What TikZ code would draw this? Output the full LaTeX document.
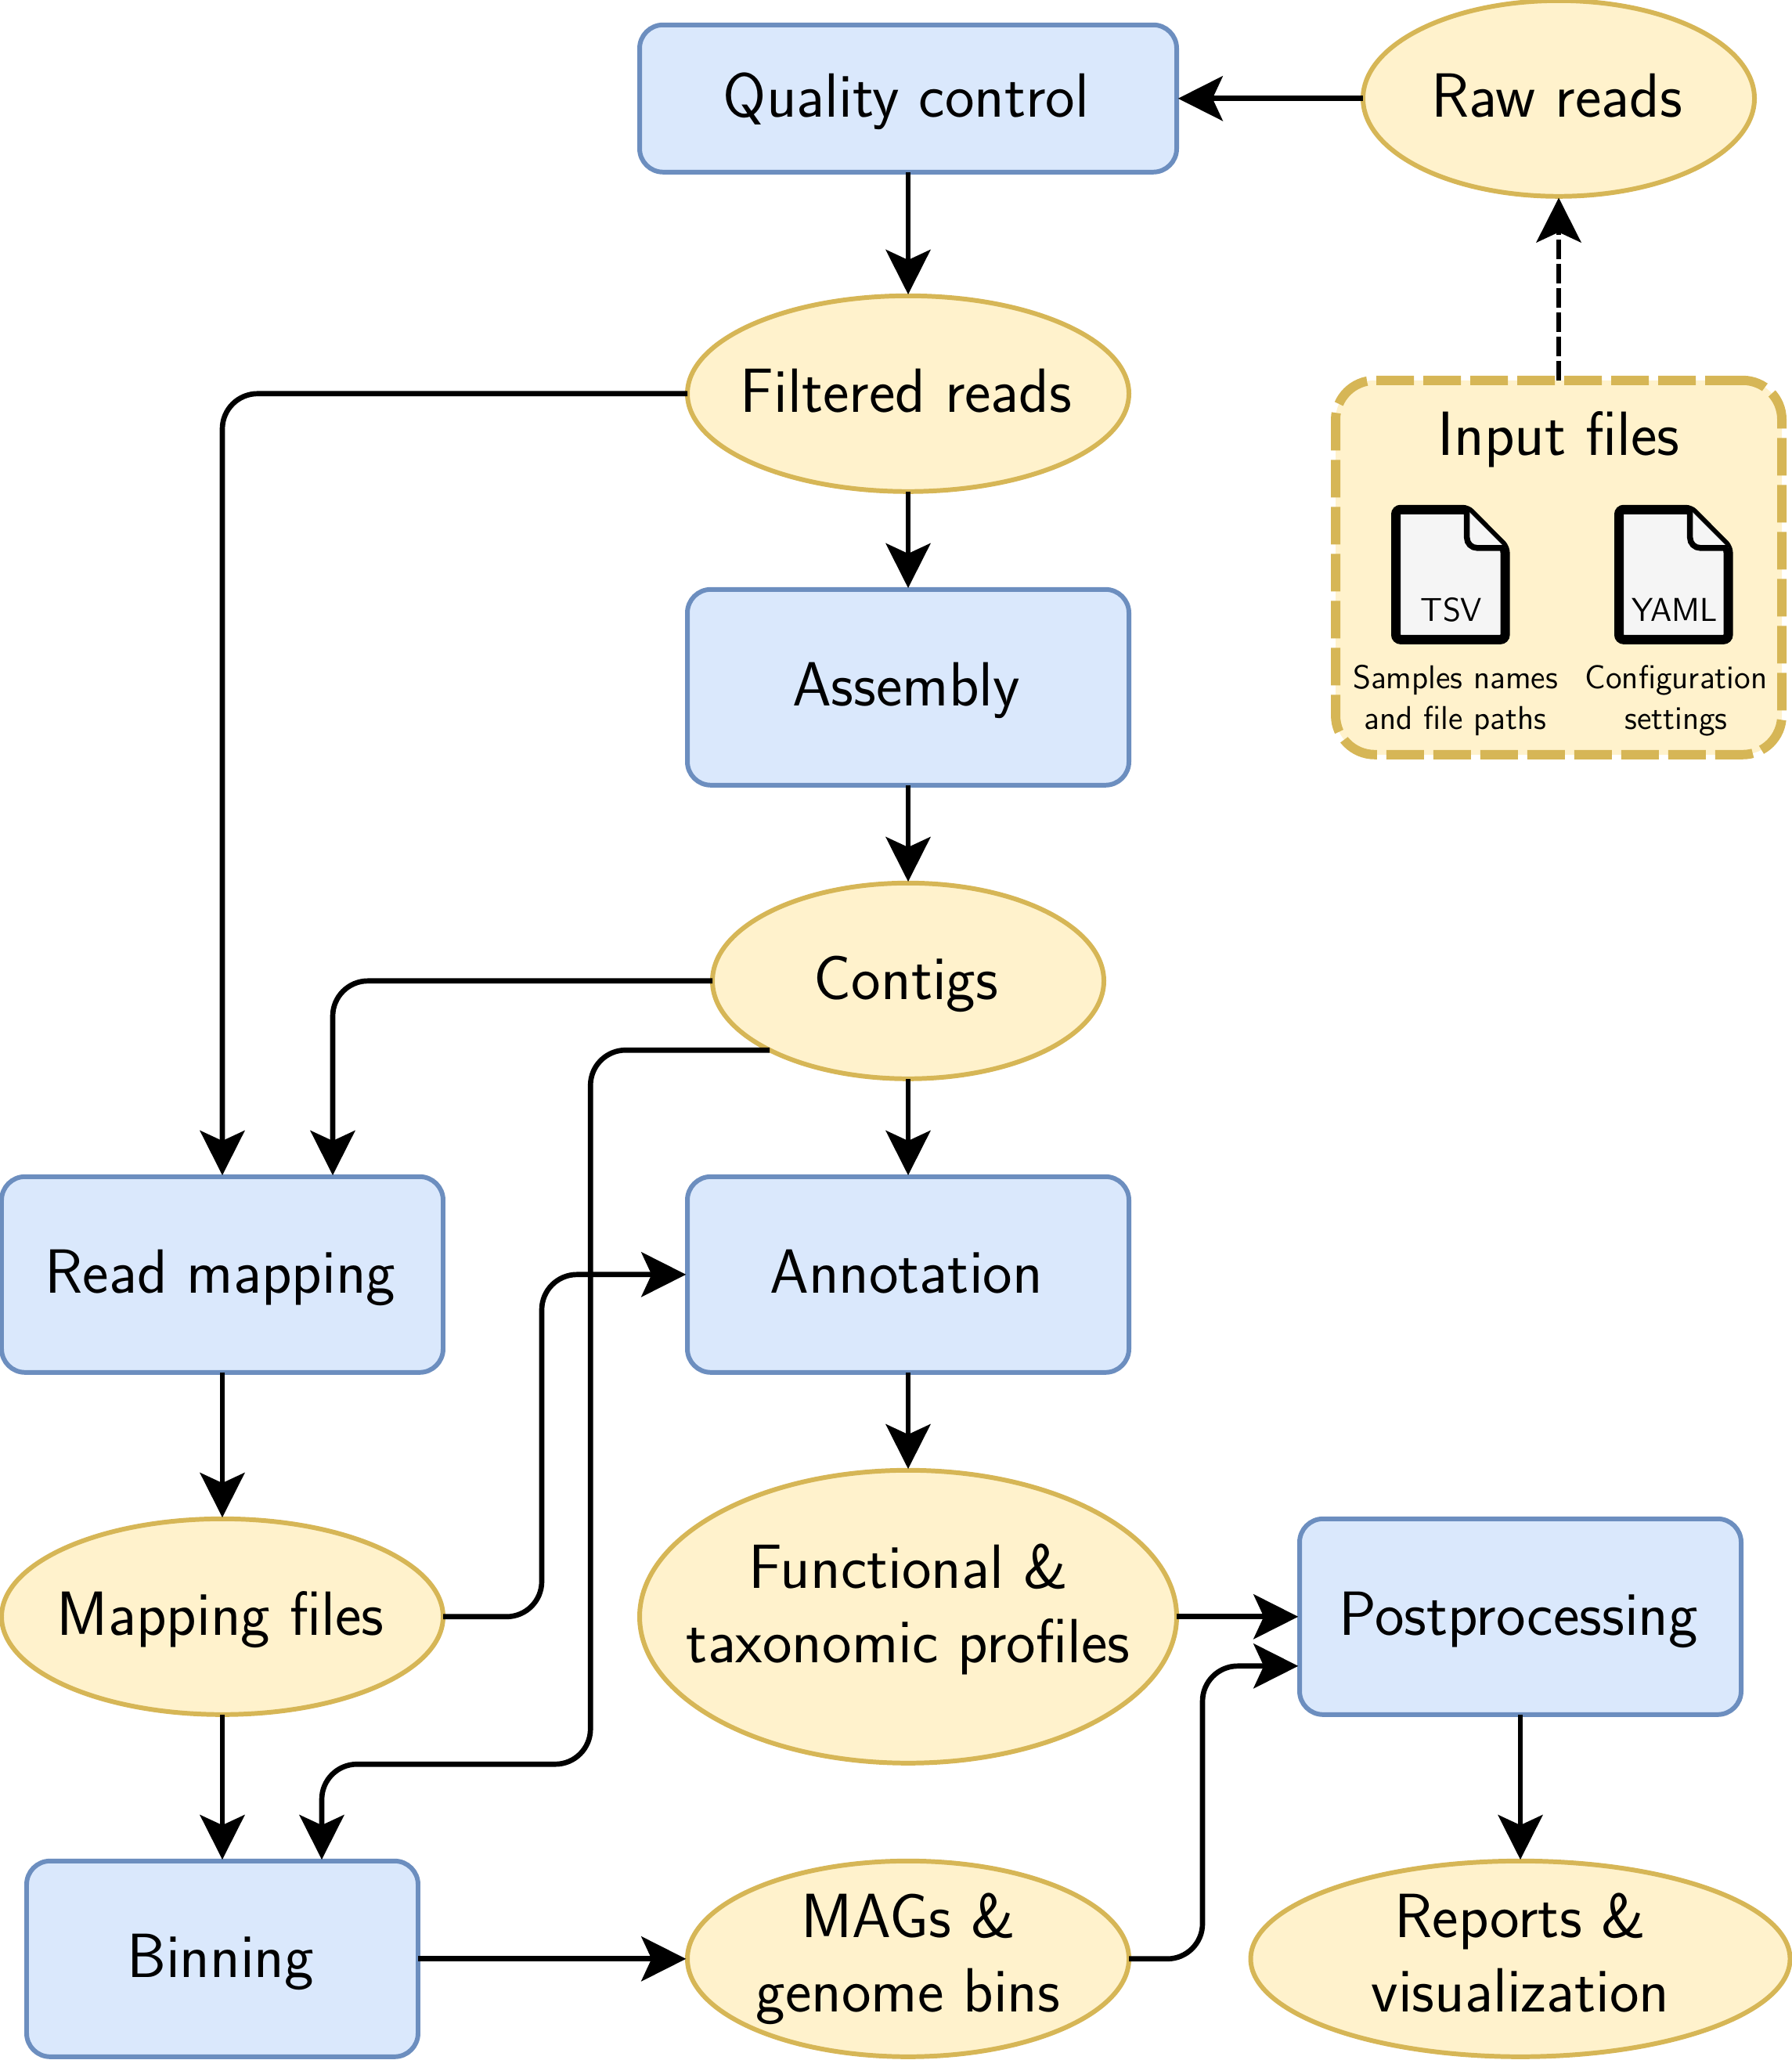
\documentclass[tikz,border=0pt]{standalone}
\usepackage{tikz}
\usetikzlibrary{positioning, calc, shapes.geometric, arrows.meta}
\definecolor{procfill}{HTML}{DAE8FC}
\definecolor{procline}{HTML}{6C8EBF}
\definecolor{datafill}{HTML}{FFF2CC}
\definecolor{dataline}{HTML}{D6B656}
\definecolor{iconfill}{HTML}{F5F5F5}
\tikzset{
    fileicon/.pic={
        \draw[line width=0.12cm, rounded corners=0.06cm, fill=iconfill]
            (0,0) -- (0.91,0) -- (1.395,-0.49) -- (1.395,-1.66) -- (0,-1.66) -- cycle;
        \draw[line width=0.075cm, rounded corners=0.13cm, fill=iconfill]
            (0.907,0) -- (0.907,-0.49) -- (1.395,-0.49);
    }
}
\begin{document}
\begin{tikzpicture}[
    font=\sffamily\fontsize{22.7}{27}\selectfont,
    procbox/.style={draw=procline, fill=procfill, line width=1.7pt, rounded corners=0.3cm, outer sep=0pt, align=center, minimum width=5.64cm, minimum height=2.5cm},
    dataell/.style={ellipse, draw=dataline, fill=datafill, line width=1.7pt, inner xsep=-0.5cm, inner ysep=-0.3cm, outer sep=0pt, align=center, minimum width=5.64cm, minimum height=2.5cm},
    oneline/.style={text height=13.6pt, text depth=0pt, execute at end node={\kern1.4pt}},
    link/.style={draw, line width=1.9pt, rounded corners=0.45cm, shorten >=0.5pt, -{Stealth[length=0.57cm, width=0.57cm, inset=0.13cm]}},
    smalltext/.style={font=\sffamily\fontsize{12}{14.7}\selectfont, align=center, inner sep=0pt}
]
\useasboundingbox (0,0) rectangle (22.88,-26.31);
% Centre column
\node[procbox, oneline, minimum width=6.86cm, minimum height=1.88cm] (qc) at (11.6,-1.258) {Quality control};
\node[dataell, oneline, below=1.58cm of qc] (filtered) {Filtered reads};
\node[procbox, oneline, below=1.25cm of filtered] (assembly) {Assembly};
\node[dataell, oneline, minimum width=5cm, below=1.25cm of assembly] (contigs) {Contigs};
\node[procbox, oneline, below=1.25cm of contigs] (annotation) {Annotation};
\node[dataell, minimum width=6.86cm, minimum height=3.74cm, below=1.25cm of annotation] (profiles) {Functional \&\\taxonomic profiles\rule[-10pt]{0pt}{0pt}};
% Left column
\node[procbox, oneline, left=3.12cm of annotation] (readmap) {Read mapping};
\node[dataell, oneline, below=1.87cm of readmap] (mapping) {Mapping files};
\node[procbox, oneline, minimum width=5cm, below=1.87cm of mapping] (binning) {Binning};
\node[dataell, right=3.44cm of binning] (mags) {MAGs \&\\genome bins};
% Right column
\node[procbox, oneline, right=1.57cm of profiles] (post) {Postprocessing};
\node[dataell, minimum width=6.89cm, below=1.87cm of post] (reports) {Reports \&\\visualization\vphantom{g}};
\node[dataell, oneline, minimum width=5cm, right=2.38cm of qc] (raw) {Raw reads};
% Input files box
\node[draw=dataline, fill=datafill, line width=3.4pt, rounded corners=0.5cm, dash pattern=on 0.48cm off 0.12cm, outer sep=0pt,
      minimum width=5.7cm, minimum height=4.78cm, below=2.35cm of raw] (input) {};
\node[text height=13.6pt, text depth=0pt] (inputtitle) at ($(input.north)+(0,-0.72)$) {Input files};
\pic at ($(input.north west)+(0.77,-1.65)$) {fileicon};
\pic at ($(input.north west)+(3.62,-1.65)$) {fileicon};
\node[smalltext] (tsv) at ($(input.north west)+(1.48,-2.93)$) {TSV};
\node[smalltext] (yaml) at ($(input.north west)+(4.33,-2.93)$) {YAML};
\node[smalltext] (samples) at ($(input.north west)+(1.53,-4.09)$) {Samples names\\and file paths};
\node[smalltext] (config) at ($(input.north west)+(4.35,-4.09)$) {Configuration\\settings};
% Connectors
\draw[link] (raw) -- (qc);
\draw[link] (qc) -- (filtered);
\draw[link] (filtered) -- (assembly);
\draw[link] (assembly) -- (contigs);
\draw[link] (contigs) -- (annotation);
\draw[link] (annotation) -- (profiles);
\draw[link] (readmap) -- (mapping);
\draw[link] (mapping) -- (binning);
\draw[link] (binning) -- (mags);
\draw[link] (profiles) -- (post);
\draw[link] (post) -- (reports);
\draw[link, dash pattern=on 0.25cm off 0.06cm] (input.north) -- (raw.south);
\draw[link] (filtered.west) -| (readmap.north);
\draw[link] (contigs.west) -| ([xshift=1.41cm]readmap.north);
\draw[link] (contigs.south west) -- ++(-2.29,0) -- ++(0,-9.12) -| ([xshift=1.27cm]binning.north);
\draw[link] (mapping.east) -- ++(1.26,0) |- (annotation.west);
\draw[link] (mags.east) -- ++(0.94,0) |- ([yshift=-0.63cm]post.west);
\end{tikzpicture}
\end{document}
